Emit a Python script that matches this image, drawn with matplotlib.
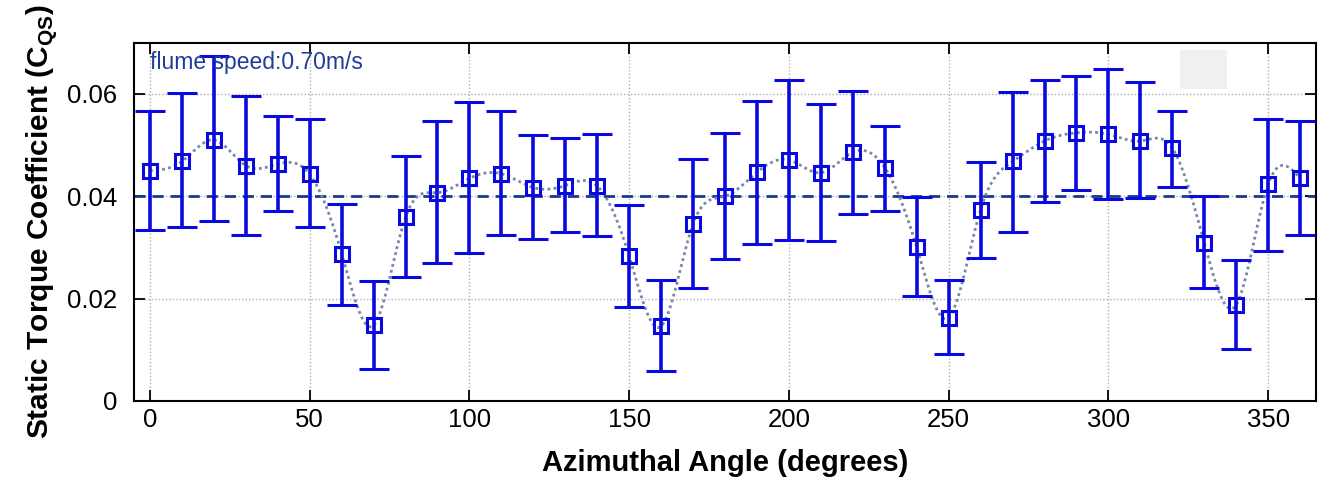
import numpy as np
import matplotlib
matplotlib.use('Agg')
import matplotlib.pyplot as plt
from matplotlib.patches import Rectangle

plt.rcParams['font.family'] = ['Liberation Sans', 'DejaVu Sans']
plt.rcParams['mathtext.fontset'] = 'custom'
plt.rcParams['mathtext.rm'] = 'Liberation Sans:bold'
plt.rcParams['mathtext.bf'] = 'Liberation Sans:bold'

angles = list(range(0, 361, 10))
cqs = [0.0450, 0.0468, 0.0510, 0.0460, 0.0463, 0.0443, 0.0288, 0.0148, 0.0359,
       0.0407, 0.0435, 0.0444, 0.0417, 0.0421, 0.0420, 0.0283, 0.0146, 0.0346,
       0.0400, 0.0447, 0.0471, 0.0446, 0.0486, 0.0456, 0.0300, 0.0163, 0.0374,
       0.0468, 0.0508, 0.0524, 0.0521, 0.0508, 0.0494, 0.0309, 0.0188, 0.0423,
       0.0435]
err_top = [0.0566, 0.0602, 0.0674, 0.0596, 0.0556, 0.0550, 0.0385, 0.0234, 0.0478,
           0.0547, 0.0584, 0.0567, 0.0519, 0.0514, 0.0521, 0.0383, 0.0236, 0.0472,
           0.0523, 0.0587, 0.0628, 0.0580, 0.0605, 0.0537, 0.0398, 0.0237, 0.0467,
           0.0604, 0.0627, 0.0634, 0.0648, 0.0623, 0.0567, 0.0400, 0.0275, 0.0550,
           0.0547]
err_bot = [0.0335, 0.0339, 0.0351, 0.0324, 0.0372, 0.0340, 0.0188, 0.0063, 0.0242,
           0.0270, 0.0290, 0.0325, 0.0316, 0.0330, 0.0322, 0.0184, 0.0058, 0.0221,
           0.0277, 0.0306, 0.0314, 0.0312, 0.0365, 0.0372, 0.0205, 0.0091, 0.0279,
           0.0331, 0.0389, 0.0413, 0.0394, 0.0397, 0.0418, 0.0221, 0.0102, 0.0294,
           0.0324]
mean_cqs = 0.040
label_text = 'flume speed:0.70m/s'


def natural_spline(x, y, n=1500):
    # natural cubic spline through the measured points (for the dotted trend line)
    x = np.asarray(x, float)
    y = np.asarray(y, float)
    h = np.diff(x)
    N = len(x)
    A = np.zeros((N, N))
    b = np.zeros(N)
    A[0, 0] = A[-1, -1] = 1
    for i in range(1, N - 1):
        A[i, i - 1] = h[i - 1]
        A[i, i] = 2 * (h[i - 1] + h[i])
        A[i, i + 1] = h[i]
        b[i] = 6 * ((y[i + 1] - y[i]) / h[i] - (y[i] - y[i - 1]) / h[i - 1])
    M = np.linalg.solve(A, b)
    xs = np.linspace(x[0], x[-1], n)
    idx = np.clip(np.searchsorted(x, xs) - 1, 0, N - 2)
    t0 = xs - x[idx]
    t1 = x[idx + 1] - xs
    hi = h[idx]
    ys = (M[idx] * t1**3 / (6 * hi) + M[idx + 1] * t0**3 / (6 * hi)
          + (y[idx] / hi - M[idx] * hi / 6) * t1
          + (y[idx + 1] / hi - M[idx + 1] * hi / 6) * t0)
    return xs, ys


fig = plt.figure(figsize=(13.24, 4.8), dpi=100)
ax = fig.add_axes([0.1012, 0.1646, 0.8928, 0.7464])

ax.grid(True, color='#b0b0b0', linestyle=(0, (1, 1.5)), linewidth=1.0)
ax.set_axisbelow(True)

ax.axhline(mean_cqs, color='#1a3a8a', linestyle=(0, (4, 2.5)), linewidth=2.0, zorder=2)

xs, ys = natural_spline(angles, cqs)
ax.plot(xs, ys, color='#7886a8', linestyle=(0, (1, 1.2)), linewidth=2.0, zorder=3)

yerr = [np.array(cqs) - np.array(err_bot), np.array(err_top) - np.array(cqs)]
ax.errorbar(angles, cqs, yerr=yerr, fmt='s', color='#0a0ae0', ecolor='#0a0ae0',
            elinewidth=2.6, capsize=10.5, capthick=2.6, markersize=9.5,
            markerfacecolor='none', markeredgewidth=2.2, zorder=4)

ax.add_patch(Rectangle((0.885, 0.87), 0.04, 0.11, transform=ax.transAxes,
                       facecolor='#f0f0f0', edgecolor='none', zorder=1))

ax.text(0, 0.0683, label_text, color='#1f3c99', fontsize=16.5, va='top', ha='left', zorder=5)

ax.set_xlim(-5, 365)
ax.set_ylim(0, 0.07)
ax.set_xticks(range(0, 351, 50))
ax.set_yticks([0, 0.02, 0.04, 0.06])
ax.set_yticklabels(['0', '0.02', '0.04', '0.06'])
ax.tick_params(direction='in', length=8, width=1.3, top=True, right=True,
               labelsize=18.5)
ax.tick_params(axis='x', pad=5)
ax.tick_params(axis='y', pad=12)
for s in ax.spines.values():
    s.set_linewidth(1.5)

ax.set_xlabel('Azimuthal Angle (degrees)', fontsize=21, fontweight='bold', labelpad=12)
ax.set_ylabel('Static Torque Coefficient (C$_{\\mathrm{QS}}$)', fontsize=21.5,
              fontweight='bold', labelpad=6)

fig.savefig('out.png', dpi=100)
